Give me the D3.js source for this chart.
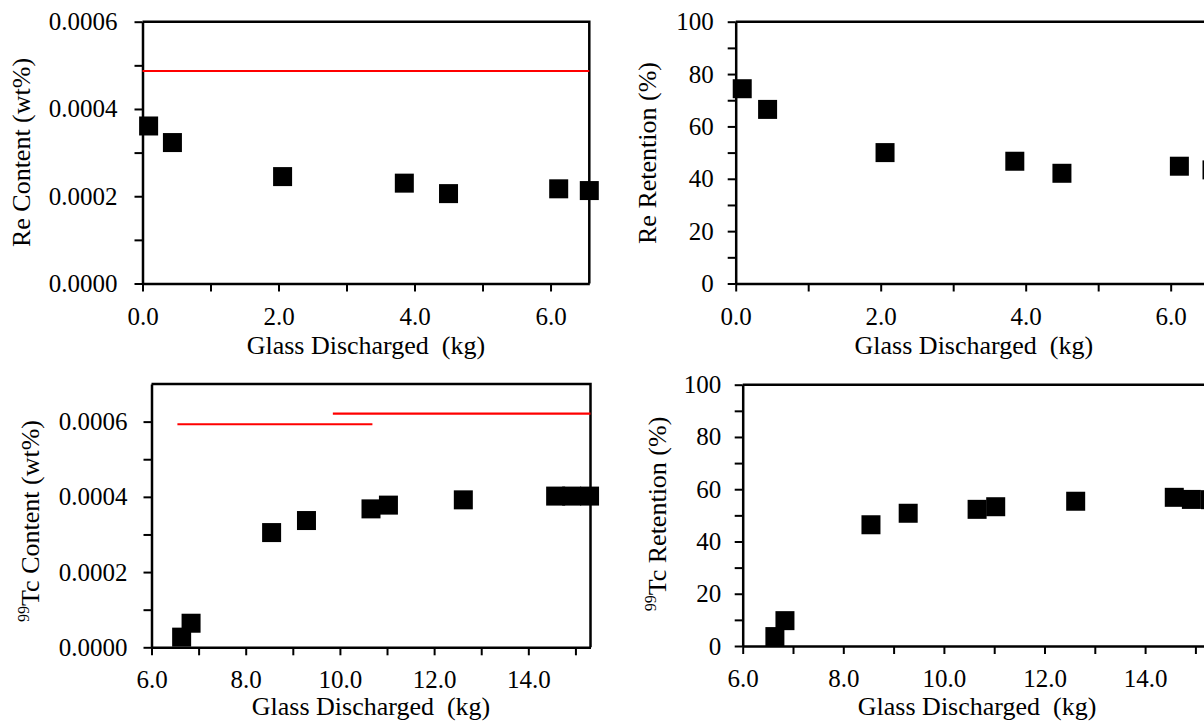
<!DOCTYPE html>
<html><head><meta charset="utf-8">
<script src="https://cdn.jsdelivr.net/npm/d3@7"></script>
<style>
html,body{margin:0;padding:0;background:#fff;overflow:hidden}
svg{display:block}
svg text{font-family:"Liberation Serif","Times New Roman","DejaVu Serif",serif !important}
</style></head><body>
<svg id="c" width="1204" height="723" font-family="Liberation Serif"></svg>
<script>
// ---- data ----
const reX = [0.09, 0.44, 2.06, 3.85, 4.50, 6.12, 6.57];
const reContent = [0.000361, 0.000323, 0.000245, 0.000230, 0.000206, 0.000217, 0.000213];
const reRetention = [74.4, 66.5, 50.0, 46.7, 42.1, 44.8, 43.4];
const tcX = [6.64, 6.84, 8.55, 9.29, 10.66, 11.03, 12.62, 14.58, 14.92, 15.30];
const tcContent = [0.000027, 0.000064, 0.000305, 0.000337, 0.000368, 0.000378, 0.000392, 0.000402, 0.000402, 0.000402];
const tcRetention = [3.6, 9.7, 46.4, 50.8, 52.3, 53.3, 55.4, 56.9, 56.1, 56.0];
const reLimitX = [0, 6.57];
const reLimit = 0.000487;
const tcLimitAX = [6.55, 10.69];
const tcLimitA = 0.000593;
const tcLimitBX = [9.85, 15.32];
const tcLimitB = 0.000621;
const reXTicks = [0, 2, 4, 6];
const reXMinor = [1, 3, 5];
const tcXTicks = [6, 8, 10, 12, 14];
const tcXMinor = [7, 9, 11, 13, 15];
const contentTicks = [0, 0.0002, 0.0004, 0.0006];
const contentMinor = [0.0001, 0.0003, 0.0005];
const retentionTicks = [0, 20, 40, 60, 80, 100];
const retentionMinor = [10, 30, 50, 70, 90];
const xTitle = "Glass Discharged\u00a0 (kg)";

const svg = d3.select('#c');
const FONT = 'Liberation Serif';

function drawPanel(o){
  const g = svg.append('g');
  const x = d3.scaleLinear().domain(o.xDomain).range([o.left, o.right]);
  const y = d3.scaleLinear().domain(o.yDomain).range([o.bottom, o.top]);

  g.append('path')
    .attr('d', `M${o.left},${o.top}H${o.right}V${o.bottom}`)
    .attr('fill', 'none').attr('stroke', '#000').attr('stroke-width', 2.5);

  const style = s => {
    s.attr('font-family', FONT).attr('font-size', 25);
    s.selectAll('.domain').attr('stroke', '#000').attr('stroke-width', 2.5);
    s.selectAll('.tick line').attr('stroke', '#000').attr('stroke-width', 2);
    s.selectAll('.tick text').attr('fill', '#000').attr('font-family', FONT).attr('font-size', 25);
  };

  g.append('g').attr('transform', `translate(${o.left},0)`)
    .call(d3.axisLeft(y).tickValues(o.yMinor).tickSize(8).tickFormat(''))
    .call(s => s.select('.domain').remove()).call(style);
  g.append('g').attr('transform', `translate(0,${o.bottom})`)
    .call(d3.axisBottom(x).tickValues(o.xMinor).tickSize(8).tickFormat(''))
    .call(s => s.select('.domain').remove()).call(style);

  g.append('g').attr('transform', `translate(${o.left},0)`)
    .call(d3.axisLeft(y).tickValues(o.yTicks).tickSize(8).tickSizeOuter(0)
      .tickPadding(o.yPad).tickFormat(o.yFmt)).call(style);
  g.append('g').attr('transform', `translate(0,${o.bottom})`)
    .call(d3.axisBottom(x).tickValues(o.xTicks).tickSize(8).tickSizeOuter(0)
      .tickPadding(o.xPad).tickFormat(d3.format('.1f'))).call(style);

  (o.limits || []).forEach(l => {
    g.append('line')
      .attr('x1', x(l.xs[0])).attr('x2', x(l.xs[1]))
      .attr('y1', y(l.v)).attr('y2', y(l.v))
      .attr('stroke', '#ff0000').attr('stroke-width', 2.2);
  });

  const m = 19;
  g.selectAll('rect.pt').data(o.xs.map((d, i) => [d, o.ys[i]])).join('rect')
    .attr('class', 'pt')
    .attr('x', d => x(d[0]) - m / 2).attr('y', d => y(d[1]) - m / 2)
    .attr('width', m).attr('height', m).attr('fill', '#000');

  g.append('text').attr('x', (o.left + o.right) / 2).attr('y', o.xTitleY)
    .attr('text-anchor', 'middle').attr('font-family', FONT).attr('font-size', 26).attr('fill', '#000')
    .text(xTitle);

  const t = g.append('text')
    .attr('transform', `translate(${o.yTitleX},${o.yTitleY}) rotate(-90)`)
    .attr('text-anchor', 'middle').attr('font-family', FONT).attr('font-size', 26).attr('fill', '#000');
  if (o.sup) {
    t.append('tspan').attr('font-size', 16).attr('dy', '-10').text(o.sup);
    t.append('tspan').attr('dy', '10').text(o.yTitle);
  } else {
    t.text(o.yTitle);
  }
}

const fmt4 = d3.format('.4f');
const fmt0 = d3.format('d');

drawPanel({left:142.5, right:589.3, top:21.7, bottom:283.5,
  xDomain:[0, 6.57], yDomain:[0, 0.0006],
  xTicks:reXTicks, xMinor:reXMinor, yTicks:contentTicks, yMinor:contentMinor,
  yFmt:fmt4, yPad:17, xPad:16,
  xs:reX, ys:reContent,
  limits:[{xs:reLimitX, v:reLimit}],
  xTitleY:354, yTitle:'Re Content (wt%)', yTitleX:30, yTitleY:152.5});

drawPanel({left:735.7, right:1212, top:21.7, bottom:283.5,
  xDomain:[0, 6.57], yDomain:[0, 100],
  xTicks:reXTicks, xMinor:reXMinor, yTicks:retentionTicks, yMinor:retentionMinor,
  yFmt:fmt0, yPad:14, xPad:16,
  xs:reX, ys:reRetention,
  xTitleY:354, yTitle:'Re Retention (%)', yTitleX:656, yTitleY:153});

drawPanel({left:151.5, right:590.5, top:384, bottom:647.3,
  xDomain:[6, 15.32], yDomain:[0, 0.0007],
  xTicks:tcXTicks, xMinor:tcXMinor, yTicks:contentTicks, yMinor:contentMinor,
  yFmt:fmt4, yPad:16, xPad:15,
  xs:tcX, ys:tcContent,
  limits:[{xs:tcLimitAX, v:tcLimitA}, {xs:tcLimitBX, v:tcLimitB}],
  xTitleY:715, sup:'99', yTitle:'Tc Content (wt%)', yTitleX:39, yTitleY:521});

drawPanel({left:742.7, right:1211.5, top:384.7, bottom:646,
  xDomain:[6, 15.32], yDomain:[0, 100],
  xTicks:tcXTicks, xMinor:tcXMinor, yTicks:retentionTicks, yMinor:retentionMinor,
  yFmt:fmt0, yPad:13.5, xPad:15,
  xs:tcX, ys:tcRetention,
  xTitleY:715, sup:'99', yTitle:'Tc Retention (%)', yTitleX:666, yTitleY:514});
</script>
</body></html>
